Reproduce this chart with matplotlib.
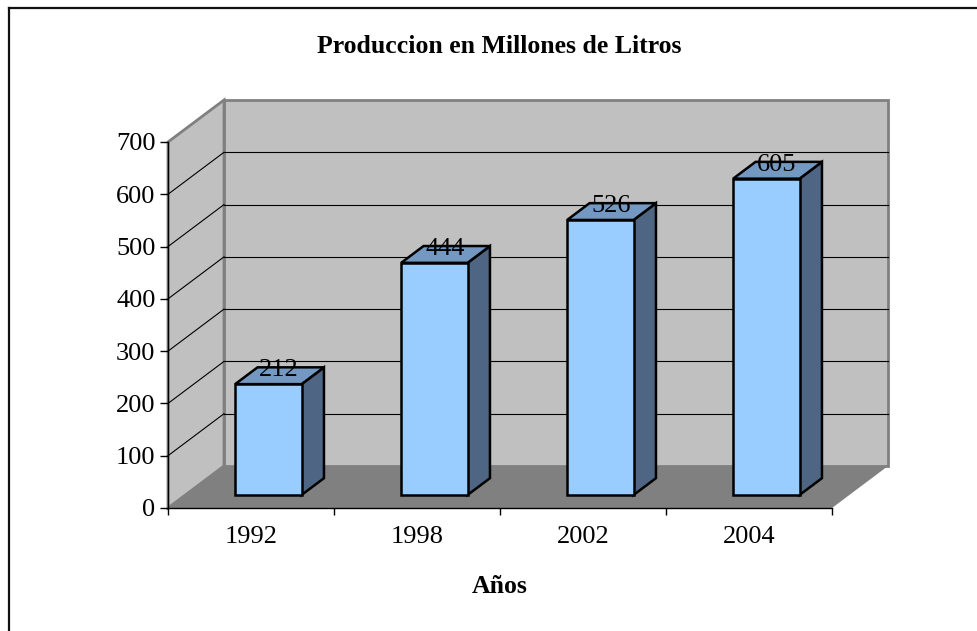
import matplotlib
matplotlib.use('Agg')
import matplotlib.pyplot as plt
import numpy as np
from matplotlib.patches import Polygon
from matplotlib.lines import Line2D
from matplotlib.transforms import IdentityTransform

# datos
anios = ['1992', '1998', '2002', '2004']
produccion = [212, 444, 526, 605]
y_ticks = [0, 100, 200, 300, 400, 500, 600, 700]

plt.rcParams['font.family'] = ['Liberation Serif', 'DejaVu Serif']

W, H = 977, 631
fig = plt.figure(figsize=(W / 100, H / 100), dpi=100)
# front plane of the 3D box
ax = fig.add_axes([168 / W, 1 - 508 / H, (832 - 168) / W, (508 - 142) / H])
ax.set_xlim(-0.5, len(anios) - 0.5)
ax.set_ylim(y_ticks[0], y_ticks[-1])
ax.patch.set_visible(False)

DX, DY = 56, 42          # depth of the box in pixels
D0, D1 = 0.31, 0.71      # bar depth span (fraction of box depth)
BW = 0.4                 # bar width

def pt(x, y, d):
    px, py = ax.transData.transform((x, y))
    return (px + d * DX, py + d * DY)

def poly(pts, **kw):
    ax.add_patch(Polygon(pts, closed=True, transform=IdentityTransform(),
                         clip_on=False, **kw))

def line(p1, p2, **kw):
    ax.add_line(Line2D([p1[0], p2[0]], [p1[1], p2[1]],
                       transform=IdentityTransform(), clip_on=False, **kw))

x0, x1 = ax.get_xlim()
ymin, ymax = ax.get_ylim()

# walls
poly([pt(x0, ymin, 1), pt(x1, ymin, 1), pt(x1, ymax, 1), pt(x0, ymax, 1)],
     facecolor='#C0C0C0', edgecolor='#808080', lw=2, zorder=1)
poly([pt(x0, ymin, 0), pt(x0, ymin, 1), pt(x0, ymax, 1), pt(x0, ymax, 0)],
     facecolor='#C0C0C0', edgecolor='#808080', lw=2, zorder=1)
# floor
poly([pt(x0, ymin, 0), pt(x1, ymin, 0), pt(x1, ymin, 1), pt(x0, ymin, 1)],
     facecolor='#808080', edgecolor='none', zorder=1.2)

# gridlines
for t in y_ticks[1:-1]:
    line(pt(x0, t, 0), pt(x0, t, 1), color='black', lw=0.8, zorder=1.5)
    line(pt(x0, t, 1), pt(x1, t, 1), color='black', lw=0.8, zorder=1.5)

# bars
for i, v in enumerate(produccion):
    xl, xr = i - BW / 2, i + BW / 2
    kw = dict(edgecolor='black', lw=1.8, joinstyle='miter', zorder=3 + i)
    poly([pt(xr, 0, D0), pt(xr, 0, D1), pt(xr, v, D1), pt(xr, v, D0)],
         facecolor='#4E6584', **kw)
    poly([pt(xl, v, D0), pt(xr, v, D0), pt(xr, v, D1), pt(xl, v, D1)],
         facecolor='#7399C2', **kw)
    poly([pt(xl, 0, D0), pt(xr, 0, D0), pt(xr, v, D0), pt(xl, v, D0)],
         facecolor='#99CCFF', **kw)
    lx, ly = pt(i, v, 0.5)
    ax.text(lx, ly, str(v), transform=IdentityTransform(), ha='center',
            va='baseline', fontsize=19, zorder=10)

# axes
for s in ['top', 'right']:
    ax.spines[s].set_visible(False)
for s in ['left', 'bottom']:
    ax.spines[s].set_color('black')
    ax.spines[s].set_linewidth(1)
ax.set_yticks(y_ticks)
ax.tick_params(axis='y', direction='out', length=6, width=1, labelsize=19, pad=3)
ax.set_xticks(np.arange(len(anios) + 1) - 0.5)
ax.set_xticklabels([])
ax.set_xticks(np.arange(len(anios)), minor=True)
ax.set_xticklabels(anios, minor=True)
ax.tick_params(axis='x', which='major', direction='out', length=5, width=1)
ax.tick_params(axis='x', which='minor', length=0, labelsize=19, pad=13)

fig.text(499 / W, 1 - 53 / H, 'Produccion en Millones de Litros', ha='center',
         va='baseline', fontsize=18.5, fontweight='bold')
fig.text(500 / W, 1 - 593 / H, 'Años', ha='center', va='baseline',
         fontsize=18.5, fontweight='bold')

# chart border (top and left edges visible)
fig.add_artist(Line2D([9 / W, 1], [1 - 8 / H, 1 - 8 / H], color='#111111', lw=1.6,
                      transform=fig.transFigure))
fig.add_artist(Line2D([9 / W, 9 / W], [0, 1 - 8 / H], color='#111111', lw=1.6,
                      transform=fig.transFigure))

plt.savefig('out.png', dpi=100)
plt.close()
